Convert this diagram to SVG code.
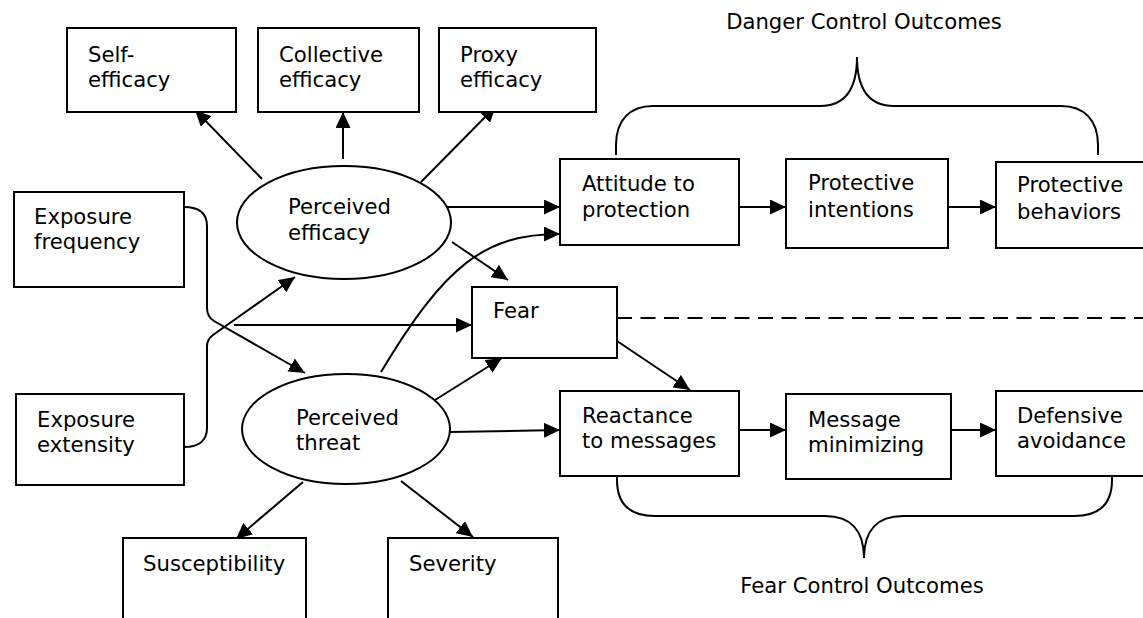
<svg xmlns="http://www.w3.org/2000/svg" width="1143" height="618" viewBox="0 0 1143 618">
<style>
.box{fill:#fff;stroke:#000;stroke-width:2}
.ell{fill:#fff;stroke:#000;stroke-width:2}
.t{font-family:"DejaVu Sans","Verdana",sans-serif;font-size:21.2px;fill:#000}
.c{fill:none;stroke:#000;stroke-width:2}
.a{marker-end:url(#ah)}
.dash{stroke-dasharray:15 8.5}
</style>
<defs>
<marker id="ah" markerUnits="userSpaceOnUse" markerWidth="16" markerHeight="15" refX="16" refY="7.5" orient="auto" viewBox="0 0 16 15">
<path d="M0,0 L16,7.5 L0,15 z" fill="#000"/>
</marker>
</defs>
<rect width="1143" height="618" fill="#fff"/>

<g id="connectors">
<path class="c a" d="M262 179 L195 110"/>
<path class="c a" d="M343 159 L343 112"/>
<path class="c a" d="M421 182 L496 106"/>
<path class="c a" d="M184 207 C198 207 207 212 207 226 L207 308 C207 314 209 318 214 321 L305 373"/>
<path class="c a" d="M184 447 C198 447 207 441 207 428 L207 346 C207 341 209 338 213 335 L295 277"/>
<path class="c a" d="M234 325 L472 325"/>
<path class="c a" d="M440 207 L560 207"/>
<path class="c a" d="M452 242 L508 280"/>
<path class="c a" d="M381 372 C445 265 485 234 560 234"/>
<path class="c a" d="M435 400 L502 358"/>
<path class="c a" d="M450 432 L560 430"/>
<path class="c a" d="M303 482 L236 539"/>
<path class="c a" d="M401 481 L473 537"/>
<path class="c a" d="M617 341 L690 390"/>
<path class="c dash" d="M617 318 L1143 318"/>
<path class="c a" d="M739 207 L786 207"/>
<path class="c a" d="M948 207 L996 207"/>
<path class="c a" d="M739 430 L786 430"/>
<path class="c a" d="M951 430 L996 430"/>
<path class="c" d="M616 155 L616 145 C616 120 630 106 653 106 L820 106 C845 106 857 90 857 57 C857 90 869 106 894 106 L1061 106 C1084 106 1098 120 1098 145 L1098 155"/>
<path class="c" d="M617 476 L617 480 C617 504 630 516 655 516 L825 516 C850 516 864 530 864 558 C864 530 878 516 903 516 L1074 516 C1099 516 1112 504 1112 480 L1112 476"/>
</g>

<g id="self-efficacy"><rect class="box" x="67" y="28" width="169" height="84"/><text class="t" x="88" y="62">Self-</text><text class="t" x="88" y="87">efficacy</text></g>
<g id="collective-efficacy"><rect class="box" x="258" y="28" width="161" height="84"/><text class="t" x="279" y="62">Collective</text><text class="t" x="279" y="87">efficacy</text></g>
<g id="proxy-efficacy"><rect class="box" x="439" y="28" width="157" height="84"/><text class="t" x="460" y="62">Proxy</text><text class="t" x="460" y="87">efficacy</text></g>

<g id="exposure-frequency"><rect class="box" x="14" y="192" width="170" height="95"/><text class="t" x="34" y="224">Exposure</text><text class="t" x="34" y="249">frequency</text></g>
<g id="exposure-extensity"><rect class="box" x="16" y="394" width="168" height="91"/><text class="t" x="37" y="427">Exposure</text><text class="t" x="37" y="452">extensity</text></g>

<g id="perceived-efficacy"><ellipse class="ell" cx="344" cy="222.5" rx="107" ry="56.5"/><text class="t" x="288" y="214">Perceived</text><text class="t" x="288" y="240">efficacy</text></g>
<g id="perceived-threat"><ellipse class="ell" cx="346" cy="429" rx="104" ry="55"/><text class="t" x="296" y="425">Perceived</text><text class="t" x="296" y="450">threat</text></g>

<g id="fear"><rect class="box" x="472" y="287" width="145" height="71"/><text class="t" x="493" y="318">Fear</text></g>

<g id="attitude"><rect class="box" x="560" y="159" width="179" height="86"/><text class="t" x="582" y="191">Attitude to</text><text class="t" x="582" y="217">protection</text></g>
<g id="intentions"><rect class="box" x="786" y="159" width="162" height="89"/><text class="t" x="808" y="190">Protective</text><text class="t" x="808" y="217">intentions</text></g>
<g id="behaviors"><rect class="box" x="996" y="162" width="160" height="86"/><text class="t" x="1017" y="192">Protective</text><text class="t" x="1017" y="219">behaviors</text></g>

<g id="reactance"><rect class="box" x="560" y="391" width="179" height="85"/><text class="t" x="582" y="423">Reactance</text><text class="t" x="582" y="448">to messages</text></g>
<g id="minimizing"><rect class="box" x="786" y="394" width="165" height="85"/><text class="t" x="808" y="427">Message</text><text class="t" x="808" y="452">minimizing</text></g>
<g id="avoidance"><rect class="box" x="996" y="391" width="160" height="85"/><text class="t" x="1017" y="423">Defensive</text><text class="t" x="1017" y="448">avoidance</text></g>

<g id="susceptibility"><rect class="box" x="123" y="538" width="183" height="100"/><text class="t" x="143" y="571">Susceptibility</text></g>
<g id="severity"><rect class="box" x="388" y="538" width="170" height="100"/><text class="t" x="409" y="571">Severity</text></g>

<g id="labels">
<text class="t" x="864" y="29" text-anchor="middle">Danger Control Outcomes</text>
<text class="t" x="862" y="593" text-anchor="middle">Fear Control Outcomes</text>
</g>
</svg>
